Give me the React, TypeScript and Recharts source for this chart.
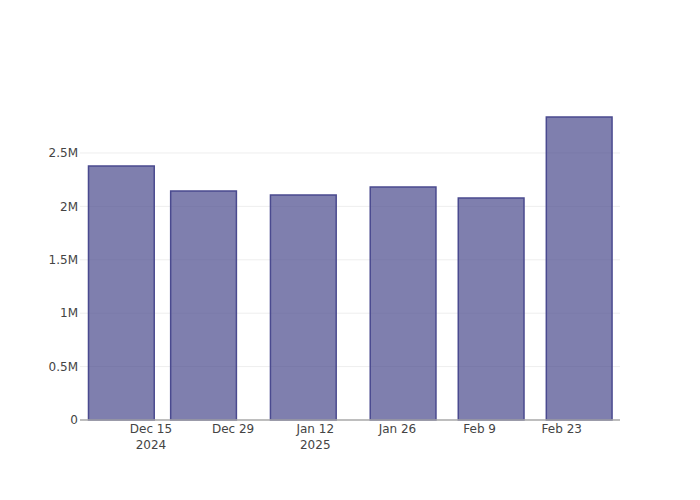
import React from 'react'
import { BarChart, Bar, XAxis, YAxis, CartesianGrid } from 'recharts'

// bar dates (period starts) and values
const dates = ['2024-12-10', '2024-12-24', '2025-01-10', '2025-01-27', '2025-02-11', '2025-02-26']
const values = [2378000, 2144000, 2107000, 2182000, 2079000, 2837000]

const xTicks = ['2024-12-15', '2024-12-29', '2025-01-12', '2025-01-26', '2025-02-09', '2025-02-23']
const yTicks = [0, 500000, 1000000, 1500000, 2000000, 2500000]

const toTime = (s: string) => Date.parse(s + 'T00:00:00Z')
const MONTHS = ['Jan', 'Feb', 'Mar', 'Apr', 'May', 'Jun', 'Jul', 'Aug', 'Sep', 'Oct', 'Nov', 'Dec']

const data = dates.map((d, i) => ({ t: toTime(d), v: values[i] }))

const xDomain = [toTime('2024-12-03') - 2 * 3600000, toTime('2025-03-05') - 2 * 3600000]
const plotWidth = 540
let minGap = Infinity
for (let i = 1; i < data.length; i++) minGap = Math.min(minGap, data[i].t - data[i - 1].t)
const barSize = (0.8 * minGap * plotWidth) / (xDomain[1] - xDomain[0])

const font = '"DejaVu Sans", sans-serif'

function XTick(props: any) {
  const { x, payload } = props
  const d = new Date(payload.value)
  const label = `${MONTHS[d.getUTCMonth()]} ${d.getUTCDate()}`
  const first = payload.value === toTime(xTicks[0])
  const newYear = d.getUTCMonth() === 0 && d.getUTCDate() <= 14
  const year = first || newYear ? String(d.getUTCFullYear()) : null
  return (
    <text textAnchor="middle" fill="#444" fontSize={12} fontFamily={font}>
      <tspan x={x} y={433}>{label}</tspan>
      {year && <tspan x={x} y={449}>{year}</tspan>}
    </text>
  )
}

const fmtY = (v: number) => (v === 0 ? '0' : `${v / 1000000}M`)

export default function App() {
  return (
    <div style={{ position: 'absolute', left: 0, top: 0, width: 700, height: 500, background: '#fff' }}>
      <BarChart width={700} height={500} data={data} margin={{ top: 100, right: 80, bottom: 0, left: 0 }}>
        <CartesianGrid vertical={false} stroke="#eee" strokeWidth={1} horizontalValues={yTicks.slice(1)} />
        <XAxis
          dataKey="t"
          type="number"
          domain={xDomain}
          allowDataOverflow
          ticks={xTicks.map(toTime)}
          tick={<XTick />}
          tickLine={false}
          axisLine={{ stroke: '#a8a8a8', strokeWidth: 1.5 }}
          height={80}
          interval={0}
        />
        <YAxis
          type="number"
          domain={[0, 2996000]}
          ticks={yTicks}
          tickFormatter={fmtY}
          axisLine={false}
          tickLine={false}
          tickSize={0}
          width={80}
          tickMargin={2}
          tick={{ fill: '#444', fontSize: 12, fontFamily: font }}
          interval={0}
        />
        <Bar
          dataKey="v"
          barSize={barSize}
          fill="#48488b"
          fillOpacity={0.7}
          stroke="#4a4a8f"
          strokeWidth={1.5}
          isAnimationActive={false}
        />
      </BarChart>
    </div>
  )
}
